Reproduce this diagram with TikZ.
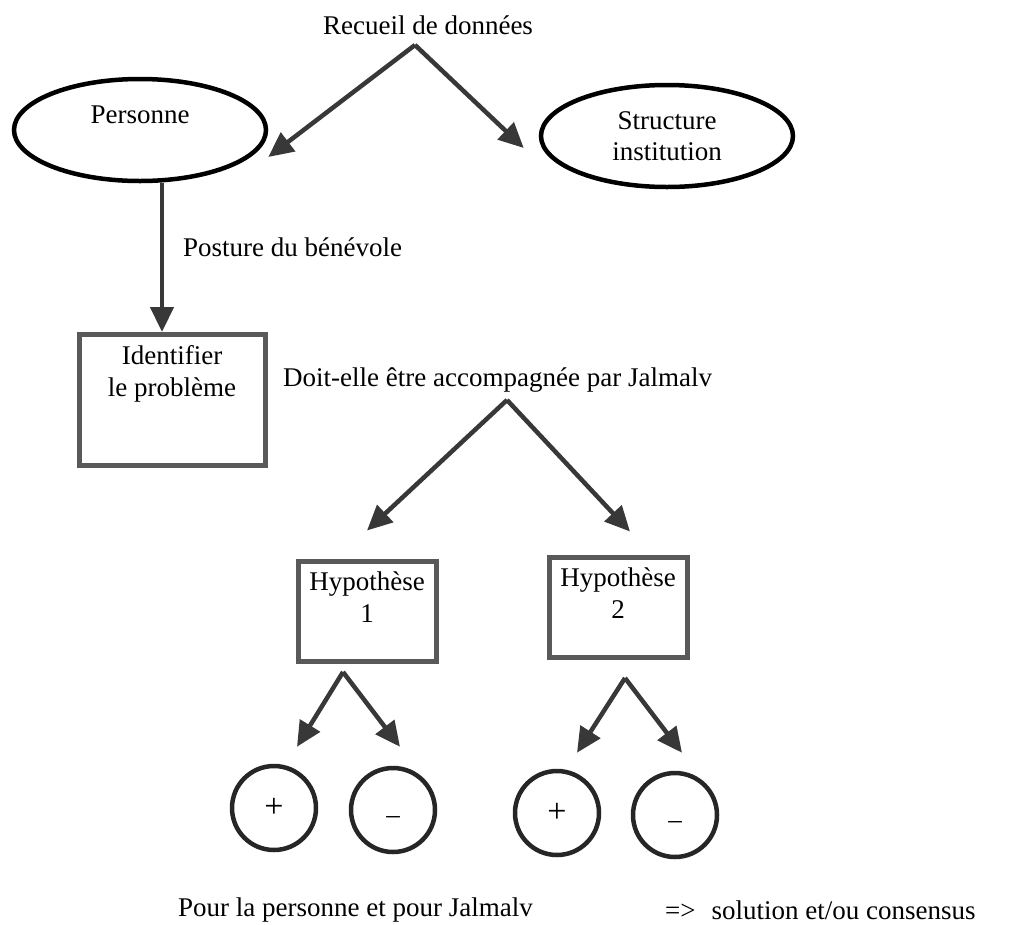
\documentclass[tikz,border=0pt]{standalone}
\usepackage{fontspec}
\setmainfont{Liberation Serif}
\usetikzlibrary{shapes.geometric,arrows.meta,positioning}

\tikzstyle{e} = [ellipse, draw=black, line width=4.5pt, minimum width=252pt, minimum height=102pt, inner sep=0pt, align=center]
\tikzstyle{b} = [rectangle, draw=black!65, line width=5pt]
\tikzstyle{c} = [circle, draw=black!85, line width=4.5pt, minimum size=84pt, inner sep=0pt]
\tikzstyle{t} = [inner sep=0pt, anchor=west]
\tikzstyle{a} = [->, line width=4.5pt, draw=black!78]

\begin{document}
\begin{tikzpicture}[x=1pt,y=-1pt,font=\fontsize{27}{31.5}\selectfont,>={Triangle[length=25pt,width=23pt]}]
\useasboundingbox (0,0) rectangle (1030,924);

\node (recueil) at (428,25) {Recueil de données};
\node[e] (personne) at (140,130) {Personne\\\mbox{}};
\node[e] (structure) at (667,136) {Structure\\institution};

\node[t] (posture) at (183,247) {Posture du bénévole};

\node[b, minimum width=186pt, minimum height=131pt,
  label={[anchor=north, align=center, yshift=-10pt]north:{Identifier\\le problème}}] (identifier) at (172,400) {};

\node[t] (doit) at (283,380) {Doit-elle être accompagnée par Jalmalv};

\node[b, minimum width=138pt, minimum height=100pt,
  label={[anchor=north, align=center, yshift=-10pt]north:{Hypothèse\\1}}] (hyp1) at (367,611) {};
\node[b, minimum width=138pt, minimum height=100pt,
  label={[anchor=north, align=center, yshift=-10pt]north:{Hypothèse\\2}}] (hyp2) [right of=hyp1, node distance=251pt, yshift=4pt] {};

\node[c, font=\fontsize{34}{40}\selectfont] (plus1) at (274,808) {+};
\node[c, text height=26pt, text depth=0pt] (moins1) [right of=plus1, node distance=119pt, yshift=-2pt] {--};
\node[c, font=\fontsize{34}{40}\selectfont] (plus2) at (557,813) {+};
\node[c, text height=26pt, text depth=0pt] (moins2) [right of=plus2, node distance=118pt, yshift=-2pt] {--};

\node[t] (pour) at (178,910) {Pour la personne et pour Jalmalv};
\node[t] (solution) at (665,910) {=>\hspace{16pt}solution et/ou consensus};

\coordinate (top1) at (415,45);
\coordinate (top2) at (507,400);
\coordinate (split1) at (343,672);
\coordinate (split2) at (625,678);

\draw[a] (top1) -- ([yshift=-27pt]personne.east);
\draw[a] (top1) -- ([xshift=-15pt, yshift=-12pt]structure.west);
\draw[a] ([xshift=22pt]personne.south) -- ([xshift=-10pt]identifier.north);
\draw[a] (top2) -- ([yshift=28pt]hyp1.north);
\draw[a] (top2) -- ([xshift=12pt, yshift=23pt]hyp2.north);
\draw[a] (split1) -- ([xshift=23pt, yshift=17pt]plus1.north);
\draw[a] (split1) -- ([xshift=7pt, yshift=19pt]moins1.north);
\draw[a] (split2) -- ([xshift=20pt, yshift=16pt]plus2.north);
\draw[a] (split2) -- ([xshift=7pt, yshift=18pt]moins2.north);

\end{tikzpicture}
\end{document}
